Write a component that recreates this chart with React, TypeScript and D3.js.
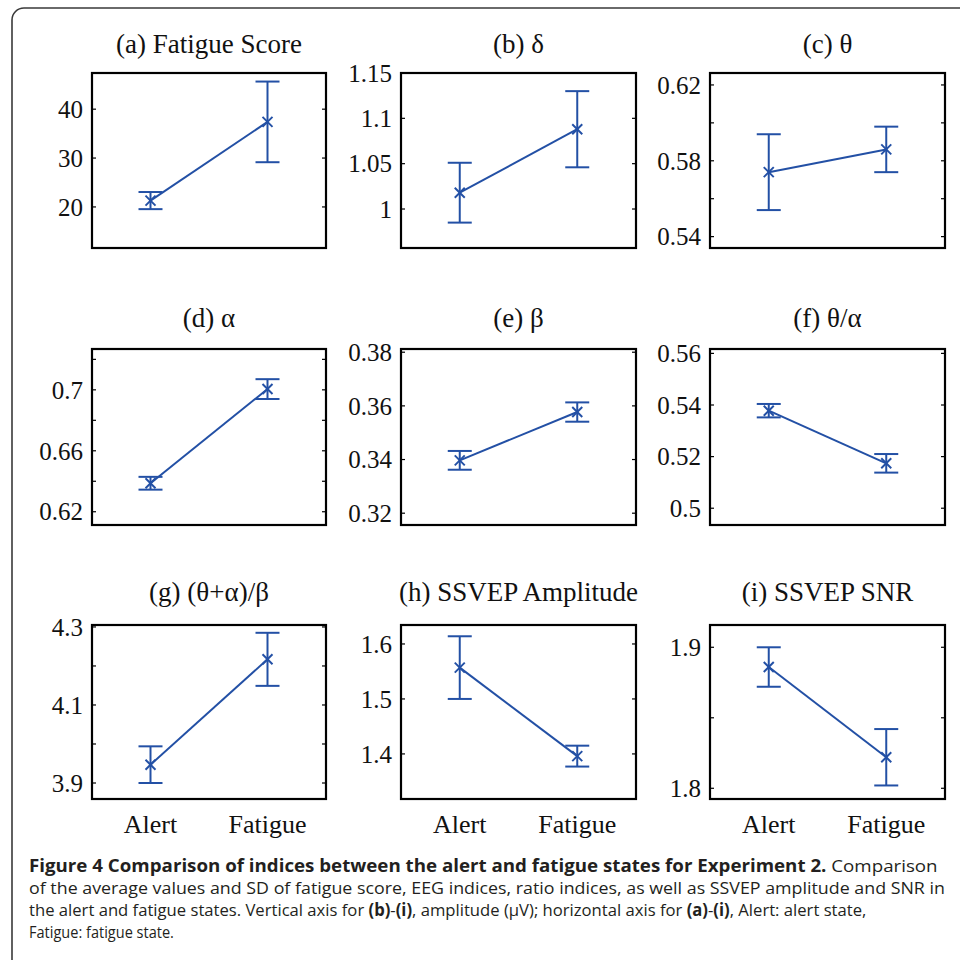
import { useLayoutEffect, useRef, useState } from 'react';
import * as d3 from 'd3';

// conditions on the x axis
const states = ['Alert', 'Fatigue'];

const titles = [
  '(a) Fatigue Score',
  '(b) δ',
  '(c) θ',
  '(d) α',
  '(e) β',
  '(f) θ/α',
  '(g) (θ+α)/β',
  '(h) SSVEP Amplitude',
  '(i) SSVEP SNR',
];

const alertMean = [21.3, 1.018, 0.574, 0.6387, 0.3397, 0.5378, 3.947, 1.557, 1.886];
const fatigueMean = [37.4, 1.088, 0.586, 0.7005, 0.3577, 0.5174, 4.217, 1.396, 1.822];
const alertSD = [1.75, 0.033, 0.02, 0.0042, 0.0035, 0.0026, 0.047, 0.057, 0.014];
const fatigueSD = [8.25, 0.042, 0.012, 0.0065, 0.0036, 0.0036, 0.068, 0.019, 0.02];

const yLimits: [number, number][] = [
  [11.6, 47.4],
  [0.957, 1.15],
  [0.534, 0.6263],
  [0.6113, 0.7268],
  [0.3156, 0.3812],
  [0.4935, 0.5617],
  [3.859, 4.305],
  [1.318, 1.6345],
  [1.7924, 1.9158],
];

const yTicks = [
  [20, 30, 40],
  [1, 1.05, 1.1, 1.15],
  [0.54, 0.56, 0.58, 0.6, 0.62],
  [0.62, 0.64, 0.66, 0.68, 0.7, 0.72],
  [0.32, 0.34, 0.36, 0.38],
  [0.5, 0.52, 0.54, 0.56],
  [3.9, 4, 4.1, 4.2, 4.3],
  [1.4, 1.5, 1.6],
  [1.8, 1.85, 1.9],
];

const yTickLabels = [
  ['20', '30', '40'],
  ['1', '1.05', '1.1', '1.15'],
  ['0.54', '', '0.58', '', '0.62'],
  ['0.62', '', '0.66', '', '0.7', ''],
  ['0.32', '0.34', '0.36', '0.38'],
  ['0.5', '0.52', '0.54', '0.56'],
  ['3.9', '', '4.1', '', '4.3'],
  ['1.4', '1.5', '1.6'],
  ['1.8', '', '1.9'],
];

const captionLines = [
  [
    { t: 'Figure 4 Comparison of indices between the alert and fatigue states for Experiment 2.', b: true },
    { t: ' Comparison', b: false },
  ],
  [{ t: 'of the average values and SD of fatigue score, EEG indices, ratio indices, as well as SSVEP amplitude and SNR in', b: false }],
  [
    { t: 'the alert and fatigue states. Vertical axis for ', b: false },
    { t: '(b)', b: true },
    { t: '-', b: false },
    { t: '(i)', b: true },
    { t: ', amplitude (μV); horizontal axis for ', b: false },
    { t: '(a)', b: true },
    { t: '-', b: false },
    { t: '(i)', b: true },
    { t: ', Alert: alert state,', b: false },
  ],
  [{ t: 'Fatigue: fatigue state.', b: false }],
];

const colX: [number, number][] = [
  [92, 326],
  [401, 636],
  [710, 945],
];
const rowY: [number, number][] = [
  [73, 248],
  [349, 525],
  [625, 799],
];
const titleBase = [53, 327, 601];
const captionWidths = [909, 917, 838, 145];

const BLUE = '#2350a5';
const SERIF = '"Liberation Serif", "Times New Roman", serif';

function Panel({ i }: { i: number }) {
  const [x0, x1] = colX[i % 3];
  const [y0, y1] = rowY[Math.floor(i / 3)];
  const x = d3.scaleLinear().domain([0.5, 2.5]).range([x0, x1]);
  const y = d3.scaleLinear().domain(yLimits[i]).range([y1, y0]);
  const pts: [number, number, number][] = [
    [1, alertMean[i], alertSD[i]],
    [2, fatigueMean[i], fatigueSD[i]],
  ];
  const line = d3
    .line<[number, number, number]>()
    .x(d => x(d[0]))
    .y(d => y(d[1]));
  const cap = 12;
  const mk = 5;
  const isBottom = Math.floor(i / 3) === 2;

  return (
    <g>
      <text
        x={(x0 + x1) / 2}
        y={titleBase[Math.floor(i / 3)]}
        textAnchor="middle"
        fontFamily={SERIF}
        fontSize={27}
        fill="#111"
      >
        {titles[i]}
      </text>
      {yTicks[i].map((v, k) => (
        <g key={k}>
          <line x1={x0} x2={x0 + 4} y1={y(v)} y2={y(v)} stroke="#000" strokeWidth={1.2} />
          <line x1={x1} x2={x1 - 4} y1={y(v)} y2={y(v)} stroke="#000" strokeWidth={1.2} />
          {yTickLabels[i][k] && (
            <text
              x={x0 - 9}
              y={y(v)}
              dy="0.35em"
              textAnchor="end"
              fontFamily={SERIF}
              fontSize={25}
              fill="#111"
            >
              {yTickLabels[i][k]}
            </text>
          )}
        </g>
      ))}
      <path d={line(pts) ?? ''} fill="none" stroke={BLUE} strokeWidth={2} />
      {pts.map((d, k) => {
        const cx = x(d[0]);
        const cy = y(d[1]);
        const top = y(d[1] + d[2]);
        const bot = y(d[1] - d[2]);
        return (
          <g key={k} stroke={BLUE} strokeWidth={2} fill="none">
            <line x1={cx} x2={cx} y1={top} y2={bot} />
            <line x1={cx - cap} x2={cx + cap} y1={top} y2={top} />
            <line x1={cx - cap} x2={cx + cap} y1={bot} y2={bot} />
            <line x1={cx - mk} x2={cx + mk} y1={cy - mk} y2={cy + mk} />
            <line x1={cx - mk} x2={cx + mk} y1={cy + mk} y2={cy - mk} />
          </g>
        );
      })}
      <rect x={x0} y={y0} width={x1 - x0} height={y1 - y0} fill="none" stroke="#000" strokeWidth={2.2} />
      {isBottom &&
        states.map((s, k) => (
          <text
            key={s}
            x={x(k + 1)}
            y={833}
            textAnchor="middle"
            fontFamily={SERIF}
            fontSize={26}
            fill="#111"
          >
            {s}
          </text>
        ))}
    </g>
  );
}

function Caption() {
  const refs = useRef<(SVGTextElement | null)[]>([]);
  const [scales, setScales] = useState<number[]>(captionLines.map(() => 1));

  // squeeze each line horizontally to the width it has in the figure
  useLayoutEffect(() => {
    const s = refs.current.map((el, i) => {
      if (!el) return 1;
      const w = el.getBBox().width;
      return w > 0 ? captionWidths[i] / w : 1;
    });
    setScales(s);
  }, []);

  return (
    <g>
      {captionLines.map((parts, li) => (
        <text
          key={li}
          ref={el => {
            refs.current[li] = el;
          }}
          transform={`translate(29,${872 + li * 22}) scale(${scales[li]},1)`}
          fontFamily='"Open Sans", "Noto Sans", sans-serif'
          fontSize={17}
          fill="#231f20"
        >
          {parts.map((p, k) => (
            <tspan key={k} fontWeight={p.b ? 700 : 400}>
              {p.t}
            </tspan>
          ))}
        </text>
      ))}
    </g>
  );
}

export default function App() {
  return (
    <svg
      width={960}
      height={960}
      style={{ position: 'absolute', left: 0, top: 0, background: '#fff' }}
    >
      <rect width={960} height={960} fill="#fff" />
      <path d="M12,962 L12,20 A12,12 0 0 1 24,8 L962,8" fill="none" stroke="#3a3a3a" strokeWidth={1.6} />
      {titles.map((_, i) => (
        <Panel key={i} i={i} />
      ))}
      <Caption />
    </svg>
  );
}
